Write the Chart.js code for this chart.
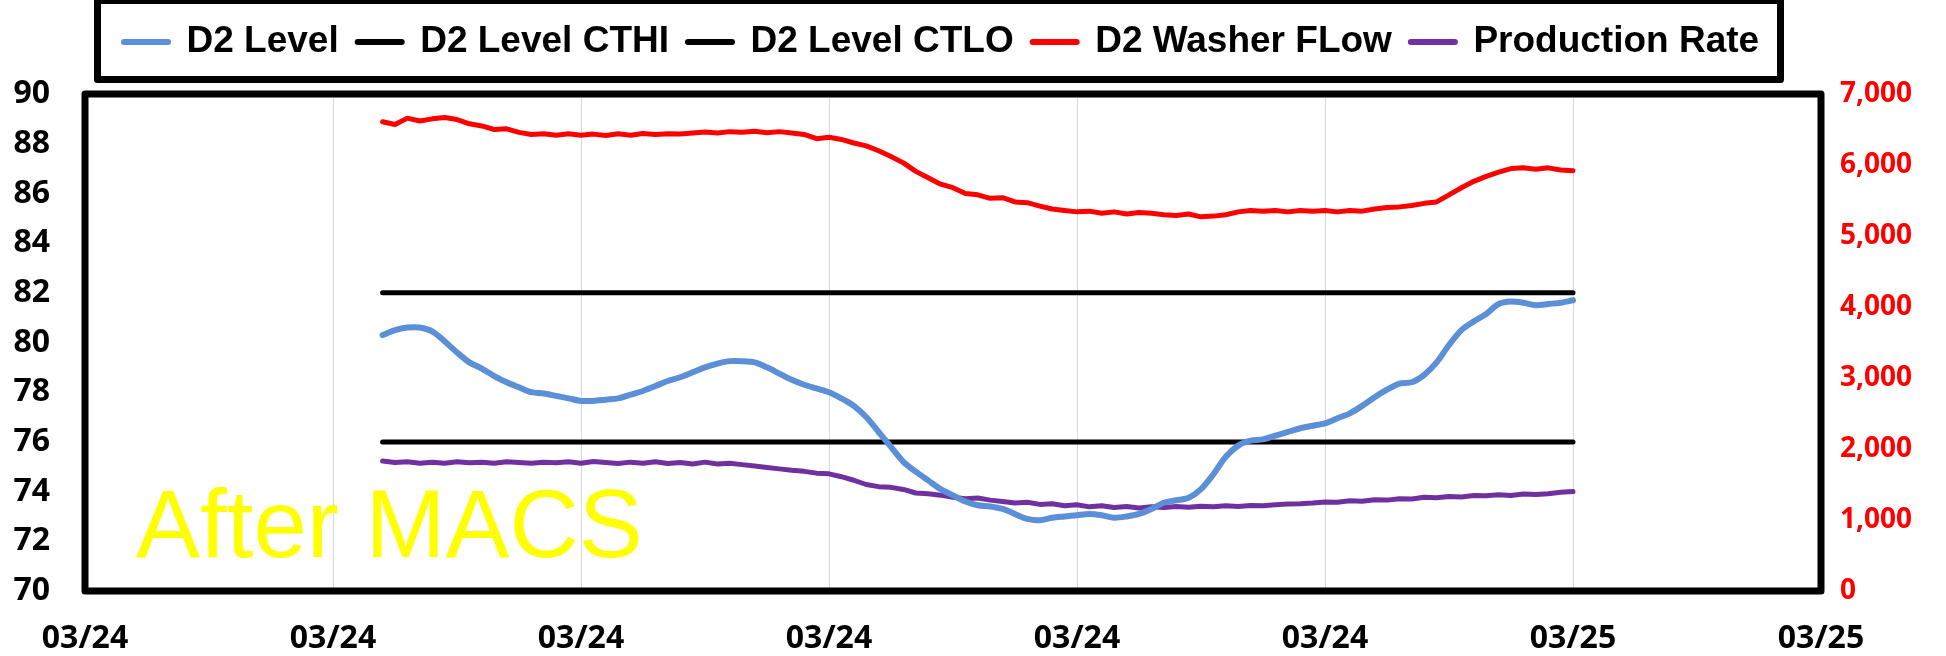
<!DOCTYPE html>
<html>
<head>
<meta charset="utf-8">
<title>D2 Level - After MACS</title>
<script src="https://cdn.jsdelivr.net/npm/chart.js@4.4.1/dist/chart.umd.min.js"></script>
<style>
  html, body { margin: 0; padding: 0; background: #ffffff; }
  #wrap { width: 1946px; height: 656px; }
</style>
</head>
<body>
<div id="wrap"><canvas id="chart" width="1946" height="656"></canvas></div>
<script>
// x axis: one unit per day-tick, labels as printed on the sheet
const xTickLabels = ['03/24', '03/24', '03/24', '03/24', '03/24', '03/24', '03/25', '03/25'];

// sample times (in tick units)
const times = [
  1.20, 1.25, 1.30, 1.35, 1.40, 1.45, 1.50, 1.55, 1.60, 1.65,
  1.70, 1.75, 1.80, 1.85, 1.90, 1.95, 2.00, 2.05, 2.10, 2.15,
  2.20, 2.25, 2.30, 2.35, 2.40, 2.45, 2.50, 2.55, 2.60, 2.65,
  2.70, 2.75, 2.80, 2.85, 2.90, 2.95, 3.00, 3.05, 3.10, 3.15,
  3.20, 3.25, 3.30, 3.35, 3.40, 3.45, 3.50, 3.55, 3.60, 3.65,
  3.70, 3.75, 3.80, 3.85, 3.90, 3.95, 4.00, 4.05, 4.10, 4.15,
  4.20, 4.25, 4.30, 4.35, 4.40, 4.45, 4.50, 4.55, 4.60, 4.65,
  4.70, 4.75, 4.80, 4.85, 4.90, 4.95, 5.00, 5.05, 5.10, 5.15,
  5.20, 5.25, 5.30, 5.35, 5.40, 5.45, 5.50, 5.55, 5.60, 5.65,
  5.70, 5.75, 5.80, 5.85, 5.90, 5.95, 6.00
];

// D2 Level (left axis)
const levelValues = [
  80.30, 80.50, 80.60, 80.60, 80.45, 80.05, 79.60, 79.20, 78.95, 78.65,
  78.40, 78.20, 78.00, 77.95, 77.85, 77.75, 77.65, 77.65, 77.70, 77.75,
  77.90, 78.05, 78.25, 78.45, 78.60, 78.80, 79.00, 79.15, 79.25, 79.25,
  79.20, 79.00, 78.75, 78.50, 78.30, 78.15, 78.00, 77.75, 77.45, 77.00,
  76.40, 75.80, 75.20, 74.80, 74.45, 74.10, 73.85, 73.60, 73.45, 73.40,
  73.30, 73.10, 72.90, 72.85, 72.95, 73.00, 73.05, 73.10, 73.05, 72.95,
  73.00, 73.10, 73.30, 73.55, 73.65, 73.75, 74.10, 74.70, 75.40, 75.85,
  76.05, 76.10, 76.25, 76.40, 76.55, 76.65, 76.75, 76.95, 77.15, 77.45,
  77.80, 78.10, 78.35, 78.40, 78.70, 79.20, 79.90, 80.50, 80.85, 81.15,
  81.55, 81.65, 81.60, 81.50, 81.55, 81.60, 81.70
];

// control limits (left axis)
const limitTimes = [1.20, 6.00];
const ctHiValues = [82, 82];
const ctLoValues = [76, 76];

// D2 Washer FLow (right axis)
const flowValues = [
  6610, 6570, 6660, 6620, 6650, 6670, 6640, 6580, 6550, 6500,
  6510, 6460, 6430, 6440, 6420, 6440, 6420, 6435, 6415, 6440,
  6420, 6445, 6430, 6440, 6435, 6450, 6465, 6450, 6470, 6460,
  6475, 6455, 6470, 6450, 6430, 6370, 6390, 6360, 6310, 6270,
  6200, 6120, 6030, 5910, 5820, 5730, 5680, 5600, 5580, 5530,
  5540, 5480, 5470, 5420, 5380, 5360, 5340, 5350, 5320, 5340,
  5310, 5330, 5320, 5300, 5290, 5310, 5270, 5280, 5300, 5340,
  5360, 5350, 5360, 5340, 5360, 5350, 5360, 5340, 5360, 5350,
  5380, 5400, 5410, 5430, 5460, 5480, 5580, 5680, 5770, 5840,
  5900, 5950, 5960, 5940, 5960, 5930, 5920
];

// Production Rate (right axis)
const rateValues = [
  1830, 1810, 1820, 1800, 1815, 1800, 1820, 1805, 1815, 1800,
  1820, 1810, 1800, 1815, 1805, 1820, 1800, 1825, 1810, 1795,
  1815, 1800, 1820, 1795, 1810, 1790, 1815, 1790, 1800, 1780,
  1760, 1740, 1720, 1700, 1685, 1660, 1650, 1610, 1560, 1500,
  1470, 1460, 1430, 1380, 1370, 1350, 1320, 1300, 1310, 1280,
  1260, 1240, 1250, 1220, 1230, 1200, 1215, 1185, 1200, 1175,
  1190, 1170, 1185, 1175, 1190, 1180, 1195, 1185, 1200, 1190,
  1205, 1200, 1215, 1225, 1230, 1240, 1255, 1250, 1270, 1265,
  1285, 1280, 1300, 1295, 1320, 1315, 1330, 1325, 1345, 1340,
  1355, 1345, 1365, 1360, 1370, 1390, 1400
];

function pairs(xs, ys) {
  return xs.map((x, i) => ({ x: x, y: ys[i] }));
}

const tickFont = "'Open Sans', 'Noto Sans', sans-serif";

// frame around the plot and the legend, plus the yellow note
const framePlugin = {
  id: 'frame',
  afterLayout(chart) {
    const lg = chart.legend;
    const h = lg.bottom - lg.top;
    const w = lg.right - lg.left;
    lg.top = 4.5;
    lg.bottom = lg.top + h;
    lg.left = 105;
    lg.right = lg.left + w;
  },
  afterDraw(chart) {
    const ctx = chart.ctx;
    const a = chart.chartArea;
    ctx.save();
    ctx.strokeStyle = '#000000';
    ctx.lineWidth = 7;
    ctx.lineJoin = 'round';
    ctx.strokeRect(a.left, a.top, a.right - a.left, a.bottom - a.top);
    ctx.strokeRect(97.5, 0.5, 1683, 79);

    ctx.fillStyle = '#ffff00';
    ctx.font = "96px 'Liberation Sans', Arial, sans-serif";
    ctx.textBaseline = 'alphabetic';
    ctx.fillText('After MACS', 136, 557);
    ctx.restore();
  }
};

new Chart(document.getElementById('chart'), {
  type: 'line',
  data: {
    datasets: [
      {
        label: 'D2 Level',
        data: pairs(times, levelValues),
        borderColor: '#5b8fd8',
        borderWidth: 6,
        tension: 0.3,
        yAxisID: 'y'
      },
      {
        label: 'D2 Level CTHI',
        data: pairs(limitTimes, ctHiValues),
        borderColor: '#000000',
        borderWidth: 5,
        yAxisID: 'y'
      },
      {
        label: 'D2 Level CTLO',
        data: pairs(limitTimes, ctLoValues),
        borderColor: '#000000',
        borderWidth: 5,
        yAxisID: 'y'
      },
      {
        label: 'D2 Washer FLow',
        data: pairs(times, flowValues),
        borderColor: '#ff0000',
        borderWidth: 5,
        yAxisID: 'y1'
      },
      {
        label: 'Production Rate',
        data: pairs(times, rateValues),
        borderColor: '#7030a0',
        borderWidth: 5,
        yAxisID: 'y1'
      }
    ]
  },
  options: {
    responsive: false,
    animation: false,
    layout: { padding: { top: 28, left: 0, right: 0, bottom: 0 } },
    elements: {
      point: { radius: 0, hoverRadius: 0 },
      line: { borderCapStyle: 'round', borderJoinStyle: 'round' }
    },
    plugins: {
      tooltip: { enabled: false },
      legend: {
        position: 'top',
        align: 'start',
        labels: {
          color: '#000000',
          font: { family: "'Liberation Sans', Arial, sans-serif", size: 37, weight: 'bold' },
          usePointStyle: true,
          pointStyleWidth: 44,
          padding: 19,
          generateLabels(chart) {
            const items = Chart.defaults.plugins.legend.labels.generateLabels(chart);
            return items.map(item => Object.assign(item, {
              pointStyle: 'line',
              lineWidth: 6,
              lineCap: 'round'
            }));
          }
        }
      }
    },
    scales: {
      x: {
        type: 'linear',
        min: 0,
        max: 7,
        ticks: {
          stepSize: 1,
          padding: 29,
          color: '#000000',
          font: { family: tickFont, size: 32, weight: 'bold' },
          callback: value => xTickLabels[value]
        },
        grid: { color: '#d9d9d9', lineWidth: 1, drawTicks: false },
        border: { display: false },
        afterFit(scale) { scale.height = 65; }
      },
      y: {
        position: 'left',
        min: 70,
        max: 90,
        ticks: {
          stepSize: 2,
          padding: 35,
          color: '#000000',
          font: { family: tickFont, size: 32, weight: 'bold' }
        },
        grid: { display: false, drawTicks: false },
        border: { display: false },
        afterFit(scale) { scale.width = 85; }
      },
      y1: {
        position: 'right',
        min: 0,
        max: 7000,
        ticks: {
          stepSize: 1000,
          padding: 19,
          color: '#ff0000',
          font: { family: tickFont, size: 28, weight: 'bold' },
          callback: value => value.toLocaleString('en-US')
        },
        grid: { display: false, drawTicks: false },
        border: { display: false },
        afterFit(scale) { scale.width = 125; }
      }
    }
  },
  plugins: [framePlugin]
});
</script>
</body>
</html>
